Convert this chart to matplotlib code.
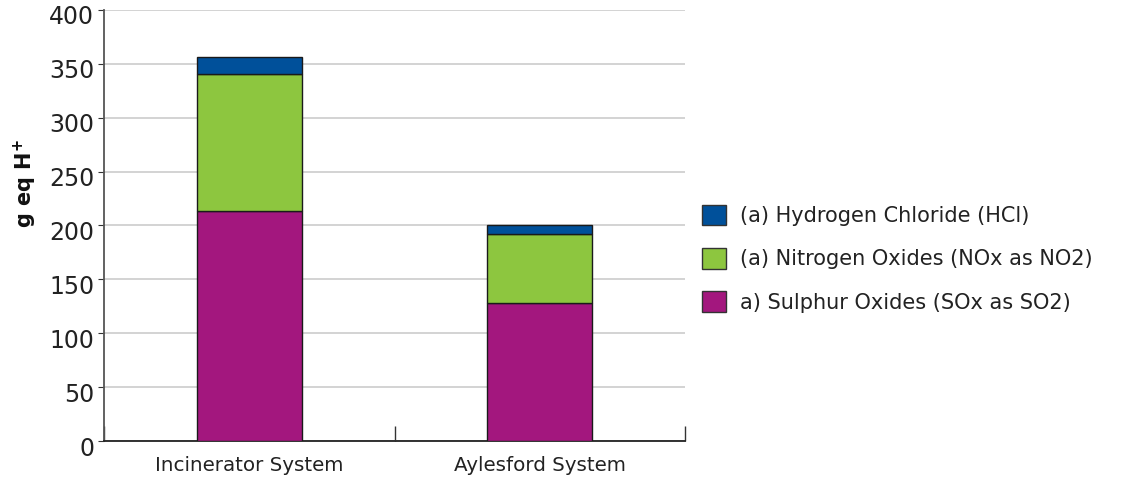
import matplotlib
matplotlib.use("Agg")
import matplotlib.pyplot as plt
from matplotlib.patches import Patch
from matplotlib.transforms import ScaledTranslation
import numpy as np

categories = ["Incinerator System", "Aylesford System"]
sulphur_oxides = [213, 128]
nitrogen_oxides = [128, 64]
hydrogen_chloride = [15, 8]
yticks = [0, 50, 100, 150, 200, 250, 300, 350, 400]

series = [
    ("a) Sulphur Oxides (SOx as SO2)", sulphur_oxides, "#A3177E"),
    ("(a) Nitrogen Oxides (NOx as NO2)", nitrogen_oxides, "#8DC63F"),
    ("(a) Hydrogen Chloride (HCl)", hydrogen_chloride, "#00509A"),
]

plt.rcParams["font.family"] = ["DejaVu Sans"]

fig = plt.figure(figsize=(11.22, 4.86), dpi=100)
ax = fig.add_axes([104 / 1122, 45 / 486, 581 / 1122, 431 / 486])

x = np.arange(len(categories))
bottom = np.zeros(len(categories))
for label, vals, color in series:
    ax.bar(x, vals, width=0.36, bottom=bottom, color=color,
           edgecolor="#1a1a1a", linewidth=1.0, label=label, zorder=3)
    bottom += np.array(vals)

ax.set_xlim(-0.5, len(categories) - 0.5)
ax.set_ylim(0, 400)
ax.set_yticks(yticks)
ax.tick_params(axis="y", labelsize=17, length=4, color="#333333",
               labelcolor="#222222", pad=3)
ax.yaxis.grid(True, color="#cccccc", linewidth=1.2, zorder=0)
ax.set_axisbelow(True)
shift = ScaledTranslation(0, -5 / 100, fig.dpi_scale_trans)
for lbl in ax.get_yticklabels():
    lbl.set_transform(lbl.get_transform() + shift)

# category boundaries as major ticks, names as minor tick labels
ax.set_xticks(np.arange(-0.5, len(categories), 1.0))
ax.set_xticklabels([])
ax.set_xticks(x, minor=True)
ax.set_xticklabels(categories, minor=True, fontsize=14.3, color="#222222")
ax.tick_params(axis="x", which="major", direction="in", length=11,
               color="#333333", width=1)
ax.tick_params(axis="x", which="minor", length=0, pad=11)

for side in ("top", "right"):
    ax.spines[side].set_visible(False)
ax.spines["left"].set_color("#555555")
ax.spines["bottom"].set_color("#222222")
ax.spines["left"].set_linewidth(1.3)
ax.spines["bottom"].set_linewidth(1.3)

fig.text(25 / 1122, 1 - 184 / 486, r"g eq H$^{\mathbf{+}}$", rotation=90,
         fontsize=15, fontweight="bold", ha="center", va="center",
         color="#111111")

handles = [Patch(facecolor=c, edgecolor="#333333", linewidth=1.0, label=l)
           for l, _, c in reversed(series)]
fig.legend(handles=handles, loc="upper left",
           bbox_to_anchor=(683 / 1122, 1 - 186 / 486), frameon=False,
           fontsize=15, handlelength=1.15, handleheight=1.15,
           handletextpad=0.7, labelspacing=1.05, labelcolor="#222222")

fig.savefig("out.png", dpi=100)
